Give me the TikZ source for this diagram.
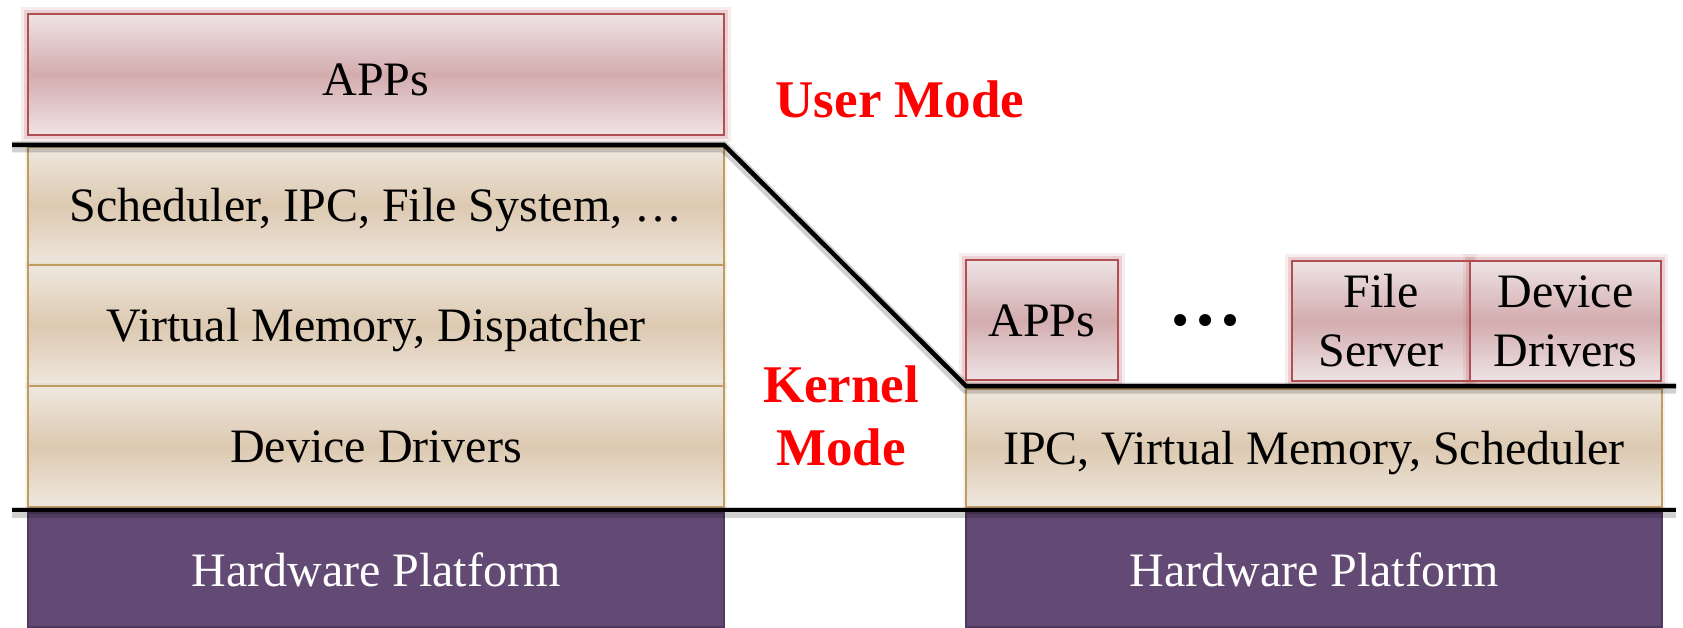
\documentclass[tikz,border=0pt]{standalone}
\usepackage{fontspec}
\setmainfont{Liberation Serif}
\definecolor{pinkL}{HTML}{EEE3E5}
\definecolor{pinkD}{HTML}{D3ACAE}
\definecolor{pinkB}{HTML}{B04E52}
\definecolor{tanL}{HTML}{EFE7DE}
\definecolor{tanD}{HTML}{DCC9B1}
\definecolor{tanB}{HTML}{BE9C62}
\definecolor{hwF}{HTML}{634A74}
\definecolor{hwB}{HTML}{4E3A5E}
\definecolor{modered}{HTML}{FF0000}
\tikzset{
  box/.style={rectangle, inner sep=0pt, outer sep=0pt, align=center,
    font=\fontsize{48}{59}\selectfont},
  oneline/.style={text height=38pt, text depth=6pt},
  pinkbox/.style={box, draw=pinkB, line width=2.5pt,
    top color=pinkL, bottom color=pinkL, middle color=pinkD,
    preaction={draw=pinkB, line width=14pt, opacity=0.10},
    preaction={draw=pinkB, line width=8pt, opacity=0.18}},
  tanbox/.style={box, oneline, draw=tanB, line width=2pt,
    top color=tanL, bottom color=tanL, middle color=tanD,
    preaction={draw=tanB, line width=6pt, opacity=0.12}},
  hwbox/.style={box, oneline, draw=hwB, line width=1.5pt, fill=hwF, text=white},
  modelabel/.style={inner sep=0pt, outer sep=0pt, align=center, text=modered,
    font=\fontsize{53}{63}\selectfont\bfseries},
  divider/.style={draw=black, line width=4.5pt, line join=miter,
    preaction={draw=black, opacity=0.18, line width=11pt, transform canvas={yshift=-2pt}}}
}
\begin{document}
\begin{tikzpicture}[x=1pt,y=-1pt]
\useasboundingbox (0,0) rectangle (1683,628);
% left stack
\node[pinkbox, text height=48pt, text depth=6pt, minimum width=696pt, minimum height=121pt] (appsL) at (376,74.5) {APPs};
\node[tanbox, minimum width=696pt, minimum height=118pt] (sched) at (376,206) {Scheduler, IPC, File System, …};
\node[tanbox, minimum width=696pt, minimum height=121pt] (vm) at (376,325.5) {Virtual Memory, Dispatcher};
\node[tanbox, minimum width=696pt, minimum height=121pt] (ddL) at (376,446.5) {Device Drivers};
\node[hwbox, minimum width=696pt, minimum height=114pt] (hwL) at (376,570) {Hardware Platform};
% right stack
\node[tanbox, minimum width=696pt, minimum height=118pt] (ipc) at (1314,448) {IPC, Virtual Memory, Scheduler};
\node[hwbox, minimum width=696pt, minimum height=114pt] (hwR) at (1314,570) {Hardware Platform};
\node[pinkbox, oneline, minimum width=152pt, minimum height=120pt] (appsR) at (1042,320) {APPs};
\node[pinkbox, minimum width=178pt, minimum height=120pt] (fs) at (1381,321) {File\\Server};
\node[pinkbox, minimum width=191pt, minimum height=120pt] (ddR) at (1565.5,321) {Device\\Drivers};
\node[inner sep=0pt, font=\fontsize{74}{74}\selectfont\bfseries] (dots) at (1205,321) {…};
% mode labels
\node[modelabel] (um) at (900,99) {User Mode};
\node[modelabel] (km) at (841,416) {Kernel\\Mode};
% dividers
\coordinate (a1) at (12,145);
\coordinate (a2) at (724,145);
\coordinate (a3) at (966,386);
\coordinate (a4) at (1676,386);
\coordinate (b1) at (12,510);
\coordinate (b2) at (1676,510);
\draw[divider] (a1) -- (a2) -- (a3) -- (a4);
\draw[divider] (b1) -- (b2);
\end{tikzpicture}
\end{document}
